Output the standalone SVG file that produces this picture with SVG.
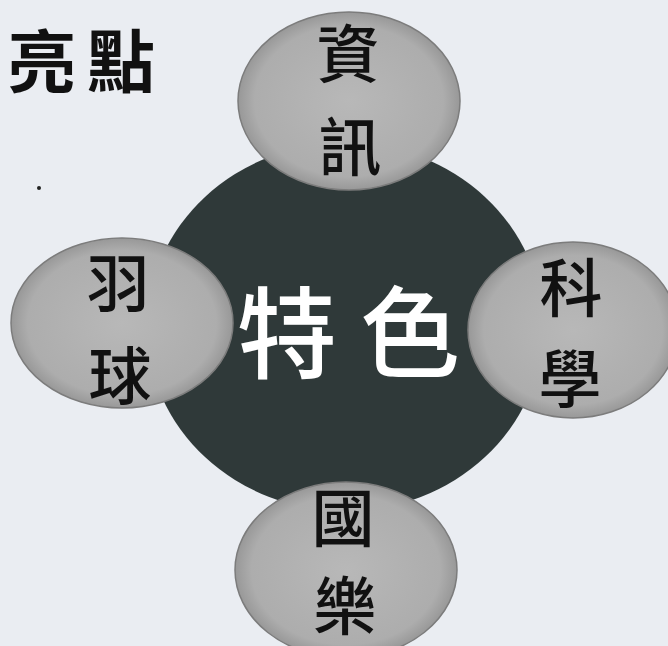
<svg xmlns="http://www.w3.org/2000/svg" width="668" height="646" viewBox="0 0 668 646">
  <defs>
    <radialGradient id="gray" cx="50%" cy="50%" r="50%">
      <stop offset="0%" stop-color="#b8b8b8"/>
      <stop offset="85%" stop-color="#adadad"/>
      <stop offset="100%" stop-color="#989898"/>
    </radialGradient>
  </defs>
  <style>
    .bg { fill: #eaedf2; }
    .hub { fill: #2f3939; }
    .petal { fill: url(#gray); stroke: #7c7c7c; stroke-width: 1.5; }
    .lbl { font-family: "Noto Sans CJK TC", "Noto Sans CJK SC", sans-serif; font-weight: 500; font-size: 63px; fill: #111; text-anchor: middle; dominant-baseline: central; }
    .hubtxt { font-family: "Noto Sans CJK TC", "Noto Sans CJK SC", sans-serif; font-weight: 500; font-size: 100px; fill: #ffffff; text-anchor: middle; dominant-baseline: central; }
    .title { font-family: "Noto Sans CJK TC", "Noto Sans CJK SC", sans-serif; font-weight: 600; font-size: 68px; fill: #111; text-anchor: middle; dominant-baseline: central; }
  </style>
  <rect class="bg" x="0" y="0" width="668" height="646"/>
  <circle cx="39" cy="188" r="2" fill="#222"/>

  <g id="title">
    <text class="title"><tspan x="42" y="57">亮</tspan><tspan x="121" y="57">點</tspan></text>
  </g>

  <g id="connectors"></g>

  <g id="hub">
    <ellipse class="hub" cx="345" cy="327" rx="198" ry="184"/>
    <text class="hubtxt"><tspan x="287" y="327">特</tspan><tspan x="410" y="326">色</tspan></text>
  </g>

  <g id="node-info">
    <ellipse class="petal" cx="349" cy="101" rx="111" ry="89"/>
    <text class="lbl"><tspan x="348" y="49">資</tspan><tspan x="350" y="142">訊</tspan></text>
  </g>

  <g id="node-badminton">
    <ellipse class="petal" cx="122" cy="323" rx="111" ry="85"/>
    <text class="lbl"><tspan x="118" y="278">羽</tspan><tspan x="120" y="371">球</tspan></text>
  </g>

  <g id="node-science">
    <ellipse class="petal" cx="573" cy="330" rx="105" ry="88"/>
    <text class="lbl"><tspan x="571" y="283">科</tspan><tspan x="570" y="374">學</tspan></text>
  </g>

  <g id="node-music">
    <ellipse class="petal" cx="346" cy="570" rx="111" ry="88"/>
    <text class="lbl"><tspan x="343" y="513">國</tspan><tspan x="345" y="601">樂</tspan></text>
  </g>
</svg>
